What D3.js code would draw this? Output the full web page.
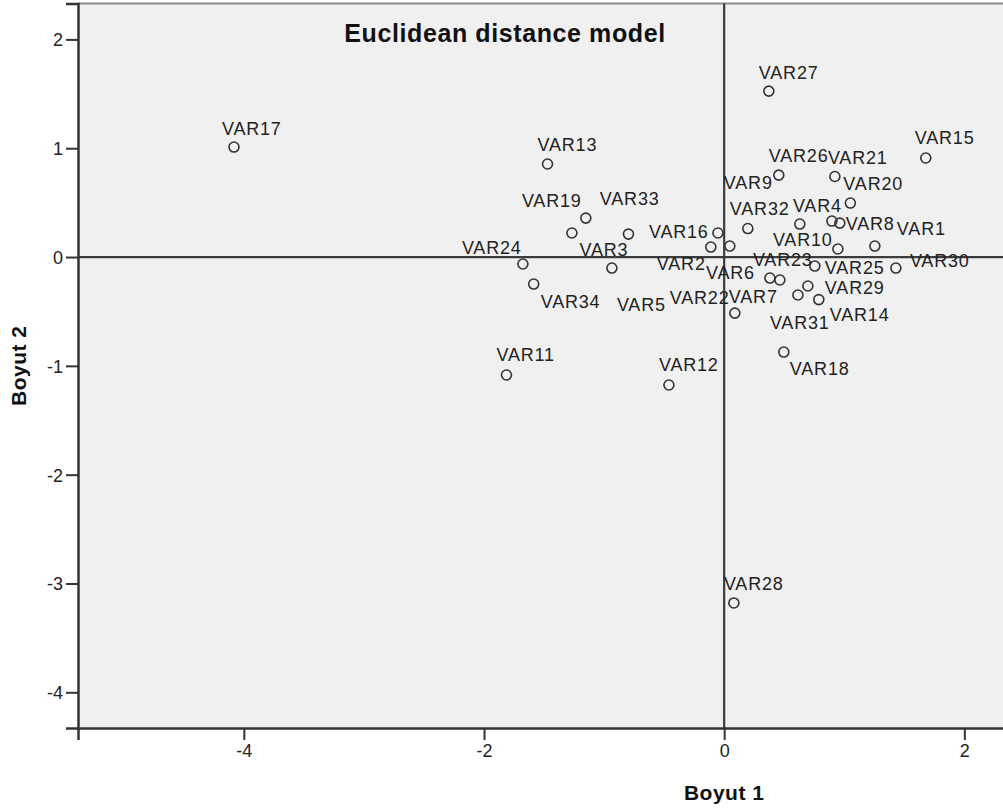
<!DOCTYPE html>
<html>
<head>
<meta charset="utf-8">
<script src="https://cdn.jsdelivr.net/npm/d3@7"></script>
<style>
  html, body { margin: 0; padding: 0; background: #fff; }
  svg { display: block; font-family: "Liberation Sans", Arial, sans-serif; }
</style>
</head>
<body>
<svg id="chart" width="1003" height="810"></svg>
<script>
// Stimulus coordinates from the two-dimensional Euclidean MDS solution
const names = ["VAR1","VAR2","VAR3","VAR4","VAR5","VAR6","VAR7","VAR8","VAR9","VAR10",
  "VAR11","VAR12","VAR13","VAR14","VAR15","VAR16","VAR17","VAR18","VAR19","VAR20",
  "VAR21","VAR22","VAR23","VAR24","VAR25","VAR26","VAR27","VAR28","VAR29","VAR30",
  "VAR31","VAR32","VAR33","VAR34"];
const dim1 = [1.255,-0.111,-0.797,0.897,-0.935,0.381,0.089,0.963,0.630,0.947,
  -1.813,-0.460,-1.471,0.788,1.679,-0.052,-4.082,0.497,-1.268,1.051,
  0.922,0.047,0.464,-1.676,0.755,0.455,0.372,0.081,0.697,1.430,
  0.614,0.197,-1.152,-1.586];
const dim2 = [0.101,0.092,0.211,0.331,-0.101,-0.193,-0.515,0.312,0.303,0.074,
  -1.084,-1.176,0.855,-0.391,0.910,0.221,1.011,-0.873,0.221,0.496,
  0.740,0.101,-0.211,-0.064,-0.083,0.753,1.525,-3.179,-0.266,-0.101,
  -0.349,0.262,0.358,-0.248];

// Label placement relative to each point (dx, dy in px)
const labelPlacement = [[22,-18],[-54,16],[-49,15],[-39,-16],[5,36],[-64,-6],[-6,-17],[6,0],[-76,-42],[-65,-9],
  [-10,-20],[-10,-20],[-10,-19],[11,15],[-11,-20],[-69,-1],[-12,-19],[6,16],[-50,-32],[-7,-20],
  [-7,-19],[-60,51],[-27,-20],[-61,-16],[10,1],[-10,-20],[-10,-19],[-10,-19],[17,2],[14,-8],
  [-28,28],[-18,-20],[14,-20],[7,17]];

const xTicks = [-4, -2, 0, 2];
const yTicks = [2, 1, 0, -1, -2, -3, -4];

const titleText = "Euclidean distance model";
const xTitle = "Boyut 1";
const yTitle = "Boyut 2";

const points = names.map((n, i) => ({ name: n, x: dim1[i], y: dim2[i], off: labelPlacement[i] }));

const svg = d3.select("#chart");
const plot = { left: 78, top: 3.5, right: 1012, bottom: 728 };

const x = d3.scaleLinear().domain([-5.381, 2.397]).range([plot.left, plot.right]);
const y = d3.scaleLinear().domain([2.330, -4.328]).range([plot.top, plot.bottom]);

// plot background
svg.append("rect")
  .attr("x", plot.left).attr("y", plot.top)
  .attr("width", plot.right - plot.left).attr("height", plot.bottom - plot.top)
  .attr("fill", "#f0f0f0");

// top frame line
svg.append("line")
  .attr("x1", plot.left).attr("x2", plot.right)
  .attr("y1", plot.top).attr("y2", plot.top)
  .attr("stroke", "#8a8a8a").attr("stroke-width", 2);

// reference lines through the origin
svg.append("line")
  .attr("x1", plot.left).attr("x2", plot.right)
  .attr("y1", y(0)).attr("y2", y(0))
  .attr("stroke", "#3c3c3c").attr("stroke-width", 2.2);
svg.append("line")
  .attr("x1", x(0)).attr("x2", x(0))
  .attr("y1", plot.top).attr("y2", plot.bottom)
  .attr("stroke", "#3c3c3c").attr("stroke-width", 2.2);

// axes (plain hyphen for negative tick labels)
const fmt = d => String(d);
const xAxis = d3.axisBottom(x).tickValues(xTicks).tickSize(12).tickPadding(4).tickFormat(fmt);
const yAxis = d3.axisLeft(y).tickValues(yTicks).tickSize(12).tickPadding(3).tickFormat(fmt);

const gx = svg.append("g").attr("transform", `translate(0,${plot.bottom})`).call(xAxis);
const gy = svg.append("g").attr("transform", `translate(${plot.left},0)`).call(yAxis);

[gx, gy].forEach(g => {
  g.select(".domain").attr("stroke", "#333").attr("stroke-width", 2.5);
  g.selectAll(".tick line").attr("stroke", "#333").attr("stroke-width", 2);
  g.selectAll(".tick text")
    .attr("fill", "#222")
    .style("font-size", "18px")
    .style("font-family", "'Liberation Sans', Arial, sans-serif");
});
gy.selectAll(".tick text").attr("dy", "0.36em");

// point markers
svg.append("g").selectAll("circle")
  .data(points).join("circle")
  .attr("cx", d => x(d.x)).attr("cy", d => y(d.y))
  .attr("r", 5)
  .attr("fill", "none")
  .attr("stroke", "#333")
  .attr("stroke-width", 1.6);

// point labels
svg.append("g").selectAll("text")
  .data(points).join("text")
  .attr("x", d => x(d.x) + d.off[0])
  .attr("y", d => y(d.y) + d.off[1])
  .attr("dy", "0.36em")
  .attr("fill", "#222")
  .style("font-size", "18px")
  .style("letter-spacing", "0.8px")
  .text(d => d.name);

// chart title
svg.append("text")
  .attr("x", 505).attr("y", 33)
  .attr("text-anchor", "middle")
  .attr("dy", "0.36em")
  .attr("fill", "#111")
  .style("font-size", "25px").style("font-weight", "bold")
  .style("letter-spacing", "0.6px")
  .text(titleText);

// axis titles
svg.append("text")
  .attr("x", x(0)).attr("y", 792)
  .attr("text-anchor", "middle")
  .attr("dy", "0.36em")
  .attr("fill", "#111")
  .style("font-size", "21px").style("font-weight", "bold")
  .style("letter-spacing", "0.5px")
  .text(xTitle);

svg.append("text")
  .attr("transform", `translate(18,${(plot.top + plot.bottom) / 2}) rotate(-90)`)
  .attr("text-anchor", "middle")
  .attr("dy", "0.36em")
  .attr("fill", "#111")
  .style("font-size", "21px").style("font-weight", "bold")
  .style("letter-spacing", "0.5px")
  .text(yTitle);
</script>
</body>
</html>
